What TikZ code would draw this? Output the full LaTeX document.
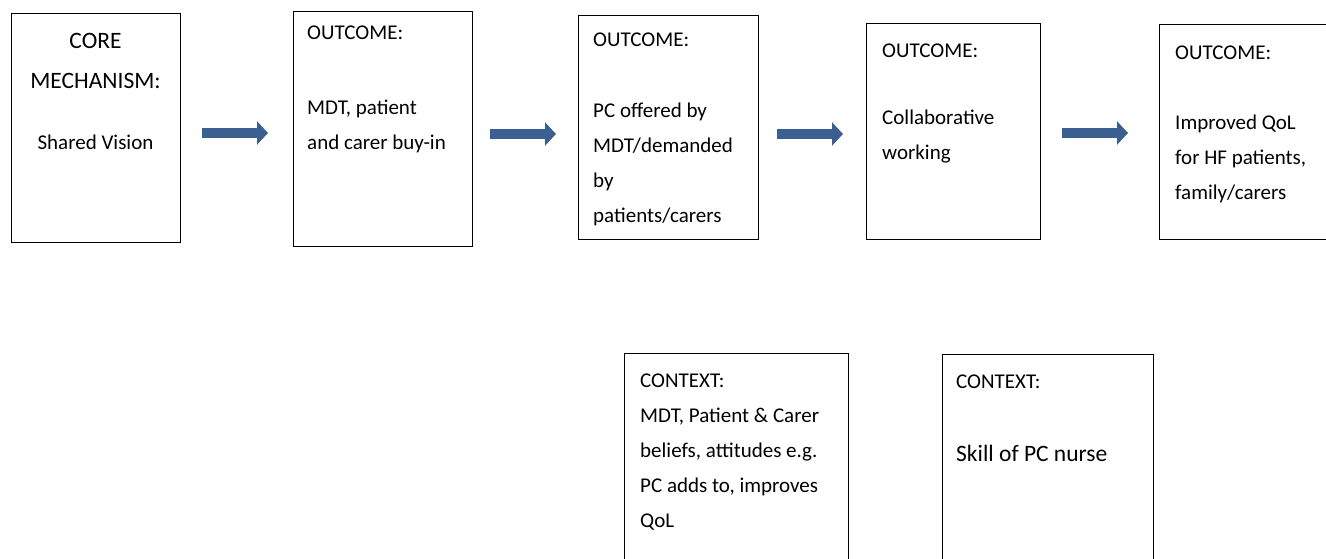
\documentclass[tikz,border=0pt]{standalone}
\usepackage{fontspec}
\setmainfont{Carlito}
\usetikzlibrary{arrows.meta}

\definecolor{arrowblue}{RGB}{60,95,145}

\begin{document}
\begin{tikzpicture}[
		x=1pt, y=-1pt,
		% Styles
		stagebox/.style={draw=black, line width=1.2pt, anchor=north west, inner sep=0pt},
		boxtext/.style={anchor=north west, inner sep=0pt, align=left, font=\fontsize{21}{35}\selectfont},
		flowarrow/.style={draw=arrowblue, line width=10pt, -{Triangle[length=11pt, width=23pt]}}
		]
		\useasboundingbox (0,0) rectangle (1326,559);
		\clip (0,0) rectangle (1326,559);
		
		% =========================================================
		% 1. CORE MECHANISM
		% =========================================================
		\node[stagebox, minimum width=169pt, minimum height=229pt] (o0) at (11,13) {};
		\node[anchor=north, inner sep=0pt, align=center, font=\fontsize{23.5}{40}\selectfont] (o0t) at (95.5,33.5) {CORE\\MECHANISM:\\[20.5pt]{\fontsize{21}{35}\selectfont Shared Vision}};
		
		% =========================================================
		% 2. OUTCOMES
		% =========================================================
		\node[stagebox, minimum width=179pt, minimum height=235pt] (o1) at (293,11) {};
		\node[boxtext] (o1t) at (307,26) {OUTCOME:\\[40pt]MDT, patient\\and carer buy-in};
		
		\node[stagebox, minimum width=180pt, minimum height=224pt] (o2) at (578,15) {};
		\node[boxtext] (o2t) at (593,32.5) {OUTCOME:\\[36.5pt]PC offered by\\MDT/demanded\\by\\patients/carers};
		
		\node[stagebox, minimum width=174pt, minimum height=216pt] (o3) at (866,23) {};
		\node[boxtext] (o3t) at (882,43.5) {OUTCOME:\\[32.5pt]Collaborative\\working};
		
		\node[stagebox, minimum width=200pt, minimum height=215pt] (o4) at (1159,24) {};
		\node[boxtext] (o4t) at (1175,46) {OUTCOME:\\[35pt]Improved QoL\\for HF patients,\\family/carers};
		
		% =========================================================
		% 3. CONTEXTS
		% =========================================================
		\node[stagebox, minimum width=224pt, minimum height=250pt] (c1) at (624,353) {};
		\node[boxtext] (c1t) at (640,373.5) {CONTEXT:\\MDT, Patient \& Carer\\beliefs, attitudes e.g.\\PC adds to, improves\\QoL};
		
		\node[stagebox, minimum width=211pt, minimum height=250pt] (c2) at (942,354) {};
		\node[boxtext] (c2t) at (956,375) {CONTEXT:\\[38pt]{\fontsize{23.5}{35}\selectfont Skill of PC nurse}};
		
		% =========================================================
		% 4. ARROWS
		% =========================================================
		\draw[flowarrow, shorten <=21pt, shorten >=25pt] (o0.east |- 0,133) -- (o1.west |- 0,133);
		\draw[flowarrow, shorten <=17pt, shorten >=22pt] (o1.east |- 0,134) -- (o2.west |- 0,134);
		\draw[flowarrow, shorten <=18pt, shorten >=23pt] (o2.east |- 0,134) -- (o3.west |- 0,134);
		\draw[flowarrow, shorten <=21pt, shorten >=31pt] (o3.east |- 0,133) -- (o4.west |- 0,133);
		
	\end{tikzpicture}
\end{document}
